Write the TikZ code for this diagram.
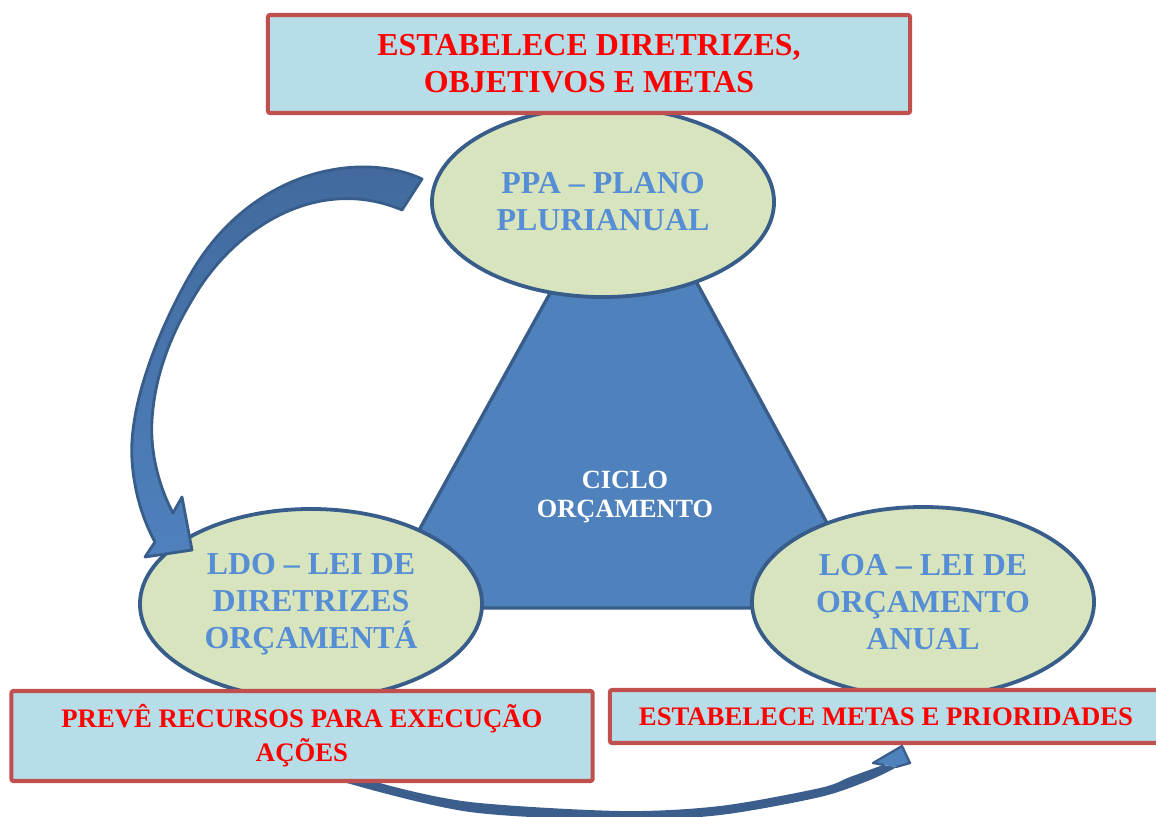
\documentclass[tikz,border=0pt]{standalone}
\usepackage{fontspec}
\setmainfont{Liberation Serif}
\usetikzlibrary{shapes.geometric,positioning}

\definecolor{boxfill}{HTML}{B7DDE8}
\definecolor{boxline}{HTML}{C0504D}
\definecolor{lawfill}{HTML}{D7E4BD}
\definecolor{lawline}{HTML}{385D8A}
\definecolor{lawtext}{HTML}{558ED5}
\definecolor{cyclefill}{HTML}{4F81BD}
\definecolor{arrowdark}{HTML}{41699C}
\definecolor{banddark}{HTML}{3B5E8C}

\begin{document}
\begin{tikzpicture}[x=0.025cm,y=-0.025cm,
    goal/.style={rectangle,draw=boxline,fill=boxfill,line width=2.9pt,rounded corners=1.5pt,inner sep=0pt,outer sep=0pt,text=red,align=center},
    law/.style={ellipse,draw=lawline,fill=lawfill,line width=2.7pt,minimum width=8.55cm,minimum height=4.75cm,inner sep=0pt,outer sep=0pt,text=lawtext,align=center,font=\fontsize{22.7}{26.3}\selectfont\bfseries}]
\useasboundingbox (0,0) rectangle (1156,816);

% triangle of the cycle
\draw[fill=cyclefill,draw=lawline,line width=2.4pt,line join=round] (627,154) -- (873,608) -- (376,608) -- cycle;
\node[text=white,align=center,font=\fontsize{18.7}{21.3}\selectfont\bfseries] (ciclo) at (625,497) {CICLO\\ORÇAMENTO};

\node[law] (PPA) at (603,202) {PPA -- PLANO\\PLURIANUAL};
\node[law] (LDO) at (311,604) {LDO -- LEI DE\\DIRETRIZES\\ORÇAMENTÁ};
\node[law] (LOA) at (923,602) {LOA -- LEI DE\\ORÇAMENTO\\ANUAL};

% curved arrow PPA -> LDO
\draw[line width=2pt,draw=lawline,top color=arrowdark,bottom color=cyclefill,line join=round]
    (422,179) .. controls (360,150) and (250,170) .. (190,275)
    .. controls (165,318) and (128,400) .. (132,460)
    .. controls (134,492) and (143,520) .. (155,542)
    -- (145,557) -- (192,550) -- (182,497) -- (173,513)
    .. controls (158,485) and (150,450) .. (152,420)
    .. controls (155,370) and (175,328) .. (192,300)
    .. controls (235,225) and (320,175) .. (402,210)
    -- cycle;

% bottom arrow
\fill[banddark]
    plot[smooth] coordinates {(368,772) (380,783) (470,802) (620,811) (720,806) (820,788) (850,777) (883,765)}
    -- (897,767)
    -- plot[smooth] coordinates {(897,767) (870,780) (820,797) (720,815) (620,820) (470,812) (347,783) (332,772)}
    -- cycle;
\draw[fill=cyclefill,draw=banddark,line width=1.6pt,line join=round]
    (884,765) -- (873,763) -- (902,746) -- (910,763) -- (896,767);

\node[goal,minimum width=16.05cm,minimum height=2.45cm,font=\fontsize{22.7}{26.3}\selectfont\bfseries] (Gppa) at (589,64) {ESTABELECE DIRETRIZES,\\OBJETIVOS E METAS};
\node[goal,minimum width=14.525cm,minimum height=2.25cm,font=\fontsize{19}{24.2}\selectfont\bfseries] (Gldo) at (302,736) {PREVÊ RECURSOS PARA EXECUÇÃO\\AÇÕES};
\node[goal,minimum width=13.8cm,minimum height=1.325cm,font=\fontsize{19}{23}\selectfont\bfseries] (Gloa) at (886,716.5) {ESTABELECE METAS E PRIORIDADES};
\end{tikzpicture}
\end{document}
